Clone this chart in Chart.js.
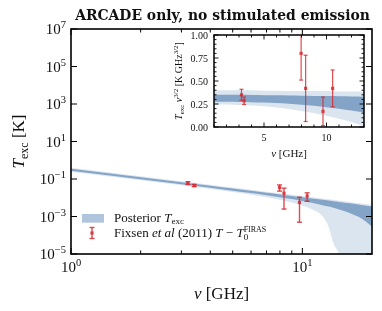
<html>
<head>
<title>ARCADE only, no stimulated emission</title>
<style>
  body { margin: 0; background: white; }
  #wrap { position: relative; width: 382px; height: 311px; }
  #main { position: absolute; left: 0; top: 0; }
  #inset { position: absolute; left: 165px; top: 28px; }
</style>
</head>
<body>
<div id="wrap">
  <canvas id="main" width="382" height="311"></canvas>
  <canvas id="inset" width="205" height="137"></canvas>
</div>
<script src="https://cdn.jsdelivr.net/npm/chart.js@4/dist/chart.umd.min.js"></script>
<script>
// all values in K GHz^{3/2} (T * nu^{3/2}); main panel divides by nu^{3/2}
const bandNu  = [1, 2, 3, 4, 5, 6, 7, 8, 9, 10, 11, 12, 13, 13.6, 14.4, 15, 16, 18, 20];
const outerHi = [0.40, 0.40, 0.40, 0.40, 0.395, 0.395, 0.39, 0.39, 0.39, 0.39, 0.385, 0.385, 0.385, 0.385, 0.385, 0.385, 0.38, 0.38, 0.38];
const innerHi = [0.35, 0.35, 0.35, 0.348, 0.346, 0.344, 0.342, 0.34, 0.338, 0.336, 0.334, 0.332, 0.33, 0.33, 0.328, 0.326, 0.322, 0.315, 0.305];
const innerLo = [0.275, 0.274, 0.272, 0.27, 0.266, 0.26, 0.252, 0.242, 0.23, 0.215, 0.198, 0.178, 0.158, 0.145, 0.13, 0.118, 0.098, 0.06, 0.026];
const outerLo = [0.245, 0.244, 0.24, 0.235, 0.226, 0.213, 0.196, 0.175, 0.15, 0.122, 0.09, 0.055, 0.013, 0.002, 0.0005, 0.00005, 0.00005, 0.00005, 0.00005];

const fixsenNu  = [3.20, 3.41, 7.97, 8.33, 9.72, 10.49];
const fixsenVal = [0.35, 0.285, 0.80, 0.42, 0.17, 0.42];
const fixsenErr = [0.06, 0.04, 0.29, 0.36, 0.155, 0.20];

const mainYExp = [7, 5, 3, 1, -1, -3, -5];
const mainXMajor = [1, 10];
const mainXMinor = [2, 3, 4, 5, 6, 7, 8, 9];
const insetYTicks = ['0.00', '0.25', '0.50', '0.75', '1.00'];
const insetXTicks = [5, 10];

const SERIF = '"Liberation Serif", "DejaVu Serif", serif';
const RED = 'rgba(214, 45, 50, 0.85)';
const LIGHT = 'rgba(58, 110, 165, 0.18)';
const DARK = 'rgba(58, 110, 165, 0.55)';
const PATCH = 'rgba(58, 110, 165, 0.4)';

function toT(v, nu) { return v / Math.pow(nu, 1.5); }

function drawRuns(ctx, x, y, parts, align) {
  let cur = 0, w = 0;
  const pos = [];
  for (const p of parts) {
    ctx.font = (p.it ? 'italic ' : '') + p.s + 'px ' + SERIF;
    const pw = ctx.measureText(p.t).width;
    pos.push(cur);
    w = Math.max(w, cur + pw);
    if (!p.keep) cur += pw;
  }
  const x0 = align === 'center' ? x - w / 2 : align === 'right' ? x - w : x;
  ctx.textAlign = 'left';
  ctx.textBaseline = 'alphabetic';
  parts.forEach((p, i) => {
    ctx.font = (p.it ? 'italic ' : '') + p.s + 'px ' + SERIF;
    ctx.fillText(p.t, x0 + pos[i], y + (p.dy || 0));
  });
  return w;
}

function line(ctx, x1, y1, x2, y2) {
  ctx.beginPath();
  ctx.moveTo(x1, y1);
  ctx.lineTo(x2, y2);
  ctx.stroke();
}

function errorBar(ctx, x, y, yLo, yHi, cap, lw) {
  ctx.strokeStyle = RED;
  ctx.fillStyle = RED;
  ctx.lineWidth = lw;
  line(ctx, x, yLo, x, yHi);
  line(ctx, x - cap, yLo, x + cap, yLo);
  line(ctx, x - cap, yHi, x + cap, yHi);
  ctx.fillRect(x - 1.6, y - 1.6, 3.2, 3.2);
}

function band(arr, convert) {
  return bandNu.map((nu, i) => ({ x: nu, y: convert ? toT(arr[i], nu) : arr[i] }));
}

function bandSets(convert) {
  const common = { borderWidth: 0, borderColor: 'rgba(0,0,0,0)', pointRadius: 0, cubicInterpolationMode: 'monotone' };
  return [
    Object.assign({ data: band(innerHi, convert), fill: '+1', backgroundColor: DARK }, common),
    Object.assign({ data: band(innerLo, convert), fill: false }, common),
    Object.assign({ data: band(outerHi, convert), fill: '+1', backgroundColor: LIGHT }, common),
    Object.assign({ data: band(outerLo, convert), fill: false }, common)
  ];
}

const mainPlugin = {
  id: 'mainDeco',
  afterDatasetsDraw(chart) {
    const ctx = chart.ctx, ca = chart.chartArea;
    const xs = chart.scales.x, ys = chart.scales.y;
    ctx.save();
    ctx.beginPath();
    ctx.rect(ca.left, ca.top, ca.right - ca.left, ca.bottom - ca.top);
    ctx.clip();
    fixsenNu.forEach((nu, i) => {
      const x = xs.getPixelForValue(nu);
      errorBar(ctx, x, ys.getPixelForValue(toT(fixsenVal[i], nu)),
        ys.getPixelForValue(toT(fixsenVal[i] - fixsenErr[i], nu)),
        ys.getPixelForValue(toT(fixsenVal[i] + fixsenErr[i], nu)), 2.5, 1.4);
    });
    ctx.restore();
  },
  afterDraw(chart) {
    const ctx = chart.ctx, ca = chart.chartArea;
    const xs = chart.scales.x, ys = chart.scales.y;
    ctx.save();
    ctx.strokeStyle = '#000';
    ctx.lineWidth = 1;
    mainXMajor.forEach(v => {
      const x = xs.getPixelForValue(v);
      line(ctx, x, ca.bottom, x, ca.bottom - 6);
      line(ctx, x, ca.top, x, ca.top + 6);
    });
    mainXMinor.forEach(v => {
      const x = xs.getPixelForValue(v);
      line(ctx, x, ca.bottom, x, ca.bottom - 3.5);
      line(ctx, x, ca.top, x, ca.top + 3.5);
    });
    mainYExp.forEach(e => {
      const y = ys.getPixelForValue(Math.pow(10, e));
      line(ctx, ca.left, y, ca.left + 6, y);
      line(ctx, ca.right, y, ca.right - 6, y);
    });
    ctx.lineWidth = 1.6;
    ctx.strokeRect(ca.left, ca.top, ca.right - ca.left, ca.bottom - ca.top);

    ctx.fillStyle = '#111';
    mainYExp.forEach(e => {
      const y = ys.getPixelForValue(Math.pow(10, e));
      const ex = e < 0 ? '\u2212' + (-e) : String(e);
      drawRuns(ctx, ca.left - 5, y + 5, [{ t: '10', s: 15 }, { t: ex, s: 10.5, dy: -6 }], 'right');
    });
    mainXMajor.forEach((v, i) => {
      const x = xs.getPixelForValue(v);
      drawRuns(ctx, x, 271.5, [{ t: '10', s: 15 }, { t: String(i), s: 10.5, dy: -6 }], 'center');
    });
    drawRuns(ctx, (ca.left + ca.right) / 2, 299, [{ t: '\u03bd', s: 17, it: true }, { t: ' [GHz]', s: 17 }], 'center');
    ctx.save();
    ctx.translate(24, (ca.top + ca.bottom) / 2);
    ctx.rotate(-Math.PI / 2);
    drawRuns(ctx, 0, 0, [{ t: 'T', s: 17, it: true }, { t: 'exc', s: 12, dy: 3.5 }, { t: ' [K]', s: 17 }], 'center');
    ctx.restore();

    // title, fitted to the reference width
    const title = 'ARCADE only, no stimulated emission';
    ctx.font = 'bold 14px "DejaVu Serif", serif';
    const size = 14 * 295 / ctx.measureText(title).width;
    ctx.font = 'bold ' + size.toFixed(2) + 'px "DejaVu Serif", serif';
    ctx.textAlign = 'center';
    ctx.fillText(title, 222.5, 20);

    // legend
    ctx.fillStyle = PATCH;
    ctx.fillRect(82, 214, 22, 8.7);
    ctx.fillStyle = '#111';
    drawRuns(ctx, 114, 221.5, [{ t: 'Posterior ', s: 13 }, { t: 'T', s: 13, it: true }, { t: 'exc', s: 9, dy: 2.5 }]);
    drawRuns(ctx, 114, 237, [
      { t: 'Fixsen ', s: 13 }, { t: 'et al', s: 13, it: true }, { t: ' (2011) ', s: 13 },
      { t: 'T', s: 13, it: true }, { t: ' \u2212 ', s: 13 }, { t: 'T', s: 13, it: true },
      { t: '0', s: 9, dy: 3, keep: true }, { t: 'FIRAS', s: 8, dy: -5 }
    ]);
    ctx.lineCap = 'butt';
    errorBar(ctx, 92, 233, 238.5, 227.5, 2.5, 1.4);
    ctx.restore();
  }
};

const insetPlugin = {
  id: 'insetDeco',
  beforeDraw(chart) {
    const ctx = chart.ctx, ca = chart.chartArea;
    ctx.save();
    ctx.fillStyle = '#fff';
    ctx.fillRect(ca.left, ca.top, ca.right - ca.left, ca.bottom - ca.top);
    ctx.restore();
  },
  afterDatasetsDraw(chart) {
    const ctx = chart.ctx, ca = chart.chartArea;
    const xs = chart.scales.x, ys = chart.scales.y;
    ctx.save();
    ctx.beginPath();
    ctx.rect(ca.left, ca.top, ca.right - ca.left, ca.bottom - ca.top);
    ctx.clip();
    fixsenNu.forEach((nu, i) => {
      errorBar(ctx, xs.getPixelForValue(nu), ys.getPixelForValue(fixsenVal[i]),
        ys.getPixelForValue(fixsenVal[i] - fixsenErr[i]),
        ys.getPixelForValue(fixsenVal[i] + fixsenErr[i]), 2, 1.2);
    });
    ctx.restore();
  },
  afterDraw(chart) {
    const ctx = chart.ctx, ca = chart.chartArea;
    const xs = chart.scales.x, ys = chart.scales.y;
    ctx.save();
    ctx.strokeStyle = '#000';
    ctx.lineWidth = 0.9;
    for (let v = 1; v <= 13; v++) {
      const x = xs.getPixelForValue(v);
      const len = v % 5 === 0 ? 4.5 : 2.5;
      line(ctx, x, ca.bottom, x, ca.bottom - len);
      line(ctx, x, ca.top, x, ca.top + len);
    }
    for (let k = 0; k <= 20; k++) {
      const y = ys.getPixelForValue(k * 0.05);
      const len = k % 5 === 0 ? 4.5 : 2.5;
      line(ctx, ca.left, y, ca.left + len, y);
      line(ctx, ca.right, y, ca.right - len, y);
    }
    ctx.lineWidth = 1.5;
    ctx.strokeRect(ca.left, ca.top, ca.right - ca.left, ca.bottom - ca.top);

    ctx.fillStyle = '#111';
    insetYTicks.forEach(t => {
      const y = ys.getPixelForValue(parseFloat(t));
      drawRuns(ctx, ca.left - 6, y + 3.5, [{ t: t, s: 10 }], 'right');
    });
    insetXTicks.forEach(v => {
      drawRuns(ctx, xs.getPixelForValue(v), ca.bottom + 14, [{ t: String(v), s: 10 }], 'center');
    });
    drawRuns(ctx, (ca.left + ca.right) / 2, ca.bottom + 30, [{ t: '\u03bd', s: 11, it: true }, { t: ' [GHz]', s: 11 }], 'center');
    ctx.save();
    ctx.translate(17, (ca.top + ca.bottom) / 2);
    ctx.rotate(-Math.PI / 2);
    drawRuns(ctx, 0, 0, [
      { t: 'T', s: 10, it: true }, { t: 'exc', s: 7, dy: 2 }, { t: ' ', s: 10 },
      { t: '\u03bd', s: 10, it: true }, { t: '3/2', s: 7, dy: -4 },
      { t: ' [K GHz', s: 10 }, { t: '3/2', s: 7, dy: -4 }, { t: ']', s: 10 }
    ], 'center');
    ctx.restore();
    ctx.restore();
  }
};

new Chart(document.getElementById('main'), {
  type: 'line',
  data: { datasets: bandSets(true) },
  options: {
    responsive: false,
    animation: false,
    events: [],
    layout: { padding: { left: 71, right: 10, top: 29, bottom: 57 } },
    scales: {
      x: { type: 'logarithmic', min: 1, max: 20, display: false },
      y: { type: 'logarithmic', min: 1e-5, max: 1e7, display: false }
    },
    plugins: { legend: { display: false }, tooltip: { enabled: false } }
  },
  plugins: [mainPlugin]
});

new Chart(document.getElementById('inset'), {
  type: 'line',
  data: { datasets: bandSets(false) },
  options: {
    responsive: false,
    animation: false,
    events: [],
    layout: { padding: { left: 49, right: 6, top: 7, bottom: 38 } },
    scales: {
      x: { type: 'linear', min: 1, max: 13, display: false },
      y: { type: 'linear', min: 0, max: 1, display: false }
    },
    plugins: { legend: { display: false }, tooltip: { enabled: false } }
  },
  plugins: [insetPlugin]
});
</script>
</body>
</html>
